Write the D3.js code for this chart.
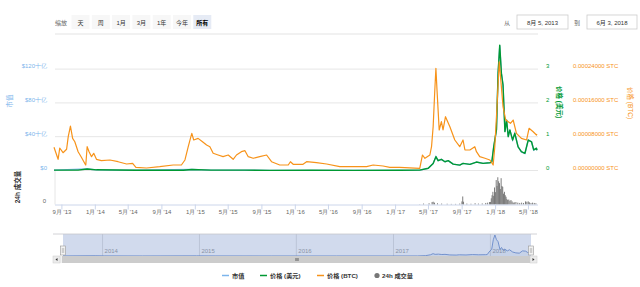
<!DOCTYPE html>
<html>
<head>
<meta charset="utf-8">
<script src="https://cdn.jsdelivr.net/npm/d3@7"></script>
<style>
body { margin: 0; background: #fff; }
svg { font-family: "Liberation Sans", "Noto Sans CJK SC", sans-serif; }
</style>
</head>
<body>
<svg id="chart" width="640" height="287"></svg>
<script>

// ---- data ----
var priceBtc = [
  ["2013-08-05",5.5e-5],["2013-08-20",2.65e-5],["2013-08-26",5.33e-5],["2013-09-07",4.21e-5],
  ["2013-09-20",5.02e-5],["2013-09-26",8.0e-5],["2013-10-04",10.5e-5],["2013-10-12",7.6e-5],
  ["2013-10-20",6.8e-5],["2013-11-01",4.45e-5],["2013-11-13",3.12e-5],["2013-11-25",1.7e-5],
  ["2013-11-29",1.3e-5],["2013-12-04",5.63e-5],["2013-12-11",4.45e-5],["2013-12-20",3.27e-5],
  ["2013-12-28",4.07e-5],["2014-01-07",2.65e-5],["2014-01-25",2.32e-5],["2014-02-25",2.49e-5],
  ["2014-03-27",2.08e-5],["2014-04-27",1.54e-5],["2014-05-19",1.7e-5],["2014-05-31",0.76e-5],
  ["2014-07-09",0.59e-5],["2014-08-26",0.9e-5],["2014-10-14",1.3e-5],["2014-11-13",1.3e-5],
  ["2014-11-26",2.49e-5],["2014-12-08",5.63e-5],["2014-12-16",7.6e-5],["2014-12-21",8.8e-5],
  ["2014-12-28",7.22e-5],["2015-01-13",7.6e-5],["2015-01-29",6.8e-5],["2015-02-13",6.04e-5],
  ["2015-02-25",5.63e-5],["2015-03-09",4.07e-5],["2015-03-27",3.67e-5],["2015-04-14",3.27e-5],
  ["2015-05-03",3.67e-5],["2015-05-21",2.65e-5],["2015-06-02",3.67e-5],["2015-06-20",4.45e-5],
  ["2015-07-03",4.69e-5],["2015-07-15",3.27e-5],["2015-08-02",2.89e-5],["2015-08-26",3.27e-5],
  ["2015-09-20",3.67e-5],["2015-10-08",2.08e-5],["2015-11-07",1.3e-5],["2015-12-08",1.3e-5],
  ["2015-12-16",2.08e-5],["2015-12-26",1.47e-5],["2016-01-31",1.47e-5],["2016-02-13",2.08e-5],
  ["2016-03-20",1.85e-5],["2016-04-26",1.54e-5],["2016-06-13",0.9e-5],["2016-08-01",0.9e-5],
  ["2016-09-19",0.9e-5],["2016-10-13",1.3e-5],["2016-11-18",1.07e-5],["2016-12-13",0.76e-5],
  ["2017-01-18",0.76e-5],["2017-04-01",0.52e-5],["2017-04-11",3.67e-5],["2017-04-20",2.89e-5],
  ["2017-05-08",3.67e-5],["2017-05-14",5.63e-5],["2017-05-20",10.4e-5],["2017-05-26",19.05e-5],
  ["2017-05-30",24.2e-5],["2017-06-03",19.05e-5],["2017-06-11",9.59e-5],["2017-06-19",11.55e-5],
  ["2017-06-25",9.59e-5],["2017-07-04",12.73e-5],["2017-07-20",10.37e-5],["2017-08-07",7.22e-5],
  ["2017-08-25",5.63e-5],["2017-09-06",7.22e-5],["2017-09-13",4.85e-5],["2017-10-01",4.85e-5],
  ["2017-10-19",5.63e-5],["2017-10-25",4.45e-5],["2017-11-06",3.27e-5],["2017-11-25",2.89e-5],
  ["2017-12-13",2.49e-5],["2017-12-25",1.3e-5],["2017-12-31",5.63e-5],["2018-01-08",15.1e-5],
  ["2018-01-16",25.7e-5],["2018-01-24",19.8e-5],["2018-01-30",15.1e-5],["2018-02-09",11.95e-5],
  ["2018-02-18",11.55e-5],["2018-02-26",11.17e-5],["2018-03-08",11.95e-5],["2018-03-20",8.8e-5],
  ["2018-04-07",7.6e-5],["2018-04-26",7.22e-5],["2018-05-05",9.99e-5],["2018-05-20",9.18e-5],
  ["2018-06-01",8.4e-5],["2018-06-03",8.6e-5]
];

var priceUsd = [
  ["2013-08-05",0.012],["2013-11-01",0.01],["2013-12-04",0.045],["2014-01-07",0.02],
  ["2014-06-01",0.008],["2014-11-20",0.006],["2014-12-21",0.03],["2015-03-01",0.012],
  ["2015-07-03",0.01],["2015-10-01",0.005],["2016-03-01",0.006],["2016-08-01",0.005],
  ["2017-01-18",0.006],["2017-04-01",0.01],["2017-05-02",0.065],["2017-05-20",0.21],
  ["2017-05-30",0.41],["2017-06-07",0.29],["2017-06-19",0.33],["2017-07-02",0.26],
  ["2017-07-14",0.29],["2017-08-01",0.19],["2017-08-25",0.16],["2017-09-06",0.21],
  ["2017-10-01",0.18],["2017-10-25",0.25],["2017-11-18",0.21],["2017-12-13",0.23],
  ["2017-12-20",0.25],["2017-12-27",0.70],["2018-01-06",1.2],["2018-01-12",2.88],
  ["2018-01-18",3.71],["2018-01-24",2.88],["2018-01-30",2.53],["2018-02-06",1.15],
  ["2018-02-12",1.49],["2018-02-18",1.0],["2018-02-24",1.2],["2018-03-06",0.90],
  ["2018-03-14",1.10],["2018-03-26",0.70],["2018-04-07",0.56],["2018-04-20",0.51],
  ["2018-05-02",0.90],["2018-05-14",0.85],["2018-05-22",0.61],["2018-06-01",0.66],
  ["2018-06-03",0.60]
];

// market cap in 十亿 USD
var marketCap = [
  ["2013-08-05",0.5],["2013-12-04",1.8],["2014-01-07",0.8],["2014-06-01",0.3],
  ["2014-12-21",1.2],["2015-03-01",0.5],["2015-10-01",0.2],["2016-06-01",0.25],
  ["2017-01-18",0.25],["2017-04-01",0.4],["2017-05-02",2.6],["2017-05-20",8.4],
  ["2017-05-30",16.4],["2017-06-07",11.6],["2017-06-19",13.2],["2017-07-02",10.4],
  ["2017-07-14",11.6],["2017-08-01",7.6],["2017-08-25",6.4],["2017-09-06",8.4],
  ["2017-10-01",7.2],["2017-10-25",10],["2017-11-18",8.4],["2017-12-13",9.2],
  ["2017-12-20",10],["2017-12-27",28],["2018-01-06",48],["2018-01-12",115],
  ["2018-01-18",148],["2018-01-24",115],["2018-01-30",101],["2018-02-06",46],
  ["2018-02-12",60],["2018-02-18",40],["2018-02-24",48],["2018-03-06",36],
  ["2018-03-14",44],["2018-03-26",28],["2018-04-07",22],["2018-04-20",20],
  ["2018-05-02",36],["2018-05-14",34],["2018-05-22",24],["2018-06-01",26],
  ["2018-06-03",24]
];

// 24h volume, 十亿 USD
var volume = [
  ["2014-01-01",0.01],["2015-01-01",0.01],["2016-01-01",0.01],["2017-01-01",0.01],
  ["2017-04-01",0.1],["2017-04-15",0.3],["2017-05-05",0.4],["2017-05-16",0.8],
  ["2017-05-20",0.9],["2017-05-25",0.6],["2017-06-05",0.4],["2017-06-20",0.3],
  ["2017-07-10",0.25],["2017-07-25",0.2],["2017-08-10",0.2],["2017-08-25",0.3],
  ["2017-09-02",1.0],["2017-09-05",2.6],["2017-09-08",0.9],["2017-09-20",0.3],
  ["2017-10-05",0.25],["2017-10-20",0.4],["2017-11-01",0.3],["2017-11-15",0.35],
  ["2017-11-28",0.5],["2017-12-05",0.6],["2017-12-12",0.8],["2017-12-15",0.8],
  ["2017-12-18",2.0],["2017-12-21",3.0],["2017-12-24",4.1],["2017-12-27",2.8],
  ["2017-12-30",5.5],["2018-01-02",4.0],["2018-01-05",7.9],["2018-01-08",6.0],
  ["2018-01-11",8.8],["2018-01-14",7.5],["2018-01-17",6.9],["2018-01-20",5.0],
  ["2018-01-23",8.5],["2018-01-26",6.0],["2018-01-29",5.7],["2018-02-01",3.5],
  ["2018-02-04",4.1],["2018-02-07",3.0],["2018-02-10",2.5],["2018-02-13",1.8],
  ["2018-02-16",1.45],["2018-02-20",1.6],["2018-02-24",1.2],["2018-02-28",1.45],
  ["2018-03-04",1.0],["2018-03-08",0.6],["2018-03-12",0.7],["2018-03-18",0.8],
  ["2018-03-25",0.6],["2018-04-01",0.5],["2018-04-08",0.6],["2018-04-15",0.5],
  ["2018-04-22",1.0],["2018-04-27",0.9],["2018-05-02",1.0],["2018-05-06",0.7],
  ["2018-05-12",0.5],["2018-05-18",0.6],["2018-05-24",0.5],["2018-05-30",0.4]
];

var xTicks = ["2013-09-01","2014-01-01","2014-05-01","2014-09-01","2015-01-01","2015-05-01",
  "2015-09-01","2016-01-01","2016-05-01","2016-09-01","2017-01-01","2017-05-01",
  "2017-09-01","2018-01-01","2018-05-01"];
var navYears = ["2014-01-01","2015-01-01","2016-01-01","2017-01-01","2018-01-01"];
var mcTicks = [0, 40, 80, 120];
var usdTicks = [0, 1, 2, 3];
var btcTicks = [0, 0.00008, 0.00016, 0.00024];
var rangeButtons = ["天","周","1月","3月","1年","今年","所有"];
var dateFrom = "8月 5, 2013", dateTo = "6月 3, 2018";
var legendItems = [
  {name:"市值", color:"#7cb5ec", type:"line"},
  {name:"价格 (美元)", color:"#009933", type:"line"},
  {name:"价格 (BTC)", color:"#f7931a", type:"line"},
  {name:"24h 成交量", color:"#777777", type:"dot"}
];

var parse = d3.timeParse("%Y-%m-%d");
var fmtMonth = d3.timeFormat("%-m月 '%y");

var svg = d3.select("#chart");

// scales
var x = d3.scaleTime().domain([parse("2013-08-05"), parse("2018-06-03")]).range([54, 537]);
var yMc = d3.scaleLinear().domain([0, 160]).range([170.5, 35.3]);
var yUsd = d3.scaleLinear().domain([0, 4]).range([170.5, 35.3]);
var yBtc = d3.scaleLinear().domain([0, 0.00032]).range([170.5, 35.3]);
var yVol = d3.scaleLinear().domain([0, 10.5]).range([204.5, 172]);

// range selector
svg.append("text").attr("x", 55).attr("y", 24.5).attr("font-size", 6)
  .attr("fill", "#666").text("缩放");
var btn = svg.selectAll(".rbtn").data(rangeButtons).enter().append("g")
  .attr("transform", function(d, i) { return "translate(" + (80.5 + i * 20.3) + ",0)"; });
btn.append("rect").attr("x", -9).attr("y", 15).attr("width", 18).attr("height", 14)
  .attr("fill", function(d, i) { return i == rangeButtons.length - 1 ? "#e6ebf5" : "#f7f7f7"; });
btn.append("text").attr("y", 24.5).attr("text-anchor", "middle").attr("font-size", 6)
  .attr("font-weight", function(d, i) { return i == rangeButtons.length - 1 ? "bold" : "normal"; })
  .attr("fill", function(d, i) { return i == rangeButtons.length - 1 ? "#000" : "#333"; })
  .text(function(d) { return d; });

// date inputs
svg.append("text").attr("x", 507).attr("y", 24.5).attr("text-anchor", "middle")
  .attr("font-size", 6).attr("fill", "#666").text("从");
svg.append("rect").attr("x", 517).attr("y", 15).attr("width", 51).attr("height", 14)
  .attr("fill", "#fff").attr("stroke", "#cccccc").attr("stroke-width", 0.8);
svg.append("text").attr("x", 542.5).attr("y", 24.5).attr("text-anchor", "middle")
  .attr("font-size", 6).attr("fill", "#333").text(dateFrom);
svg.append("text").attr("x", 577).attr("y", 24.5).attr("text-anchor", "middle")
  .attr("font-size", 6).attr("fill", "#666").text("到");
svg.append("rect").attr("x", 587).attr("y", 15).attr("width", 50).attr("height", 14)
  .attr("fill", "#fff").attr("stroke", "#cccccc").attr("stroke-width", 0.8);
svg.append("text").attr("x", 612).attr("y", 24.5).attr("text-anchor", "middle")
  .attr("font-size", 6).attr("fill", "#333").text(dateTo);

// separator under the selector
svg.append("line").attr("x1", 55).attr("x2", 538).attr("y1", 34).attr("y2", 34)
  .attr("stroke", "#ececec").attr("stroke-width", 1.5);

// gridlines
svg.append("g").selectAll("line").data(mcTicks).enter().append("line")
  .attr("x1", 55).attr("x2", 538)
  .attr("y1", function(d) { return yMc(d); }).attr("y2", function(d) { return yMc(d); })
  .attr("stroke", "#e6e6e6").attr("stroke-width", 1);

// left axis (market cap)
var gL = svg.append("g").attr("transform", "translate(47,0)")
  .call(d3.axisLeft(yMc).tickValues(mcTicks).tickSize(0).tickPadding(0)
    .tickFormat(function(d) { return d == 0 ? "$0" : "$" + d + "十亿"; }));
gL.select(".domain").remove();
gL.selectAll("text").attr("dy", "-1.5").attr("font-size", 6).attr("fill", "#7cb5ec")
  .attr("font-family", null);

// right axis (usd)
var gR = svg.append("g").attr("transform", "translate(546,0)")
  .call(d3.axisRight(yUsd).tickValues(usdTicks).tickSize(0).tickPadding(0)
    .tickFormat(d3.format("d")));
gR.select(".domain").remove();
gR.selectAll("text").attr("dy", "-1.5").attr("font-size", 6).attr("fill", "#009933")
  .attr("font-family", null);

// right axis (btc)
var gB = svg.append("g").attr("transform", "translate(573,0)")
  .call(d3.axisRight(yBtc).tickValues(btcTicks).tickSize(0).tickPadding(0)
    .tickFormat(function(d) { return d3.format(".8f")(d) + " STC"; }));
gB.select(".domain").remove();
gB.selectAll("text").attr("dy", "-1.5").attr("font-size", 6).attr("fill", "#f7931a")
  .attr("font-family", null);

// axis titles
svg.append("text").attr("transform", "translate(12,101) rotate(-90)").attr("text-anchor", "middle")
  .attr("font-size", 6.5).attr("fill", "#7cb5ec").text("市值");
svg.append("text").attr("transform", "translate(19.5,187) rotate(-90)").attr("text-anchor", "middle")
  .attr("font-size", 6.5).attr("font-weight", "bold").attr("fill", "#333").text("24h 成交量");
svg.append("text").attr("transform", "translate(557,102) rotate(90)").attr("text-anchor", "middle")
  .attr("font-size", 6.5).attr("font-weight", "bold").attr("fill", "#009933").text("价格 (美元)");
svg.append("text").attr("transform", "translate(628,103) rotate(90)").attr("text-anchor", "middle")
  .attr("font-size", 6.5).attr("fill", "#f7931a").text("价格 (BTC)");

// volume panel
svg.append("line").attr("x1", 55).attr("x2", 55).attr("y1", 171).attr("y2", 204.5)
  .attr("stroke", "#e6e6e6");
svg.append("text").attr("x", 46).attr("y", yVol(0) - 1.5).attr("text-anchor", "end")
  .attr("font-size", 6).attr("fill", "#666").text("0");
svg.append("g").selectAll("rect").data(volume).enter().append("rect")
  .attr("x", function(d) { return x(parse(d[0])) - 0.45; })
  .attr("width", 0.9)
  .attr("y", function(d) { return yVol(d[1]); })
  .attr("height", function(d) { return yVol(0) - yVol(d[1]); })
  .attr("fill", "#6f6f6f");

// x axis
var gX = svg.append("g").attr("transform", "translate(0,204.5)")
  .call(d3.axisBottom(x).tickValues(xTicks.map(parse)).tickSize(5).tickPadding(0)
    .tickFormat(fmtMonth));
gX.select(".domain").attr("stroke", "#ccd6eb").attr("d", "M55,0.5H538");
gX.selectAll(".tick line").attr("stroke", "#ccd6eb");
gX.selectAll("text").attr("font-size", 6).attr("fill", "#666").attr("font-family", null);

// lines
function lineFor(yScale) {
  return d3.line().x(function(d) { return x(parse(d[0])); })
    .y(function(d) { return yScale(d[1]); });
}
svg.append("path").datum(marketCap).attr("d", lineFor(yMc))
  .attr("fill", "none").attr("stroke", "#7cb5ec").attr("stroke-width", 1.3);
svg.append("path").datum(priceUsd).attr("d", lineFor(yUsd))
  .attr("fill", "none").attr("stroke", "#009933").attr("stroke-width", 1.4)
  .attr("stroke-linejoin", "round");
svg.append("path").datum(priceBtc).attr("d", lineFor(yBtc))
  .attr("fill", "none").attr("stroke", "#f7931a").attr("stroke-width", 1.2)
  .attr("stroke-linejoin", "round");

// navigator
var xN = d3.scaleTime().domain(x.domain()).range([63, 531]);
var yN = d3.scaleLinear().domain([0, 148]).range([256, 235]);
svg.append("g").selectAll("line").data(navYears).enter().append("line")
  .attr("x1", function(d) { return xN(parse(d)); }).attr("x2", function(d) { return xN(parse(d)); })
  .attr("y1", 234).attr("y2", 256).attr("stroke", "#e0e0e0");
svg.append("g").selectAll("text").data(navYears).enter().append("text")
  .attr("x", function(d) { return xN(parse(d)) + 2; }).attr("y", 253)
  .attr("font-size", 6).attr("fill", "#999")
  .text(function(d) { return d.slice(0, 4); });
svg.append("path").datum(marketCap)
  .attr("d", d3.area().x(function(d) { return xN(parse(d[0])); })
    .y0(256).y1(function(d) { return yN(d[1]); }))
  .attr("fill", "rgba(69,114,167,0.08)");
svg.append("path").datum(marketCap)
  .attr("d", d3.line().x(function(d) { return xN(parse(d[0])); }).y(function(d) { return yN(d[1]); }))
  .attr("fill", "none").attr("stroke", "#6a8ccd").attr("stroke-width", 0.9);
svg.append("rect").attr("x", 63).attr("y", 234).attr("width", 468).attr("height", 22)
  .attr("fill", "rgba(102,133,194,0.3)");
svg.append("line").attr("x1", 53).attr("x2", 537).attr("y1", 234).attr("y2", 234)
  .attr("stroke", "#c6c6cc").attr("stroke-width", 0.8);

// handles
[63, 531].forEach(function(hx) {
  svg.append("rect").attr("x", hx - 2.5).attr("y", 246).attr("width", 5).attr("height", 9)
    .attr("fill", "#f2f2f2").attr("stroke", "#999").attr("stroke-width", 0.6);
  svg.append("line").attr("x1", hx - 0.7).attr("x2", hx - 0.7).attr("y1", 248).attr("y2", 253)
    .attr("stroke", "#999").attr("stroke-width", 0.5);
  svg.append("line").attr("x1", hx + 0.7).attr("x2", hx + 0.7).attr("y1", 248).attr("y2", 253)
    .attr("stroke", "#999").attr("stroke-width", 0.5);
});

// scrollbar
svg.append("rect").attr("x", 53).attr("y", 256).attr("width", 484).attr("height", 7)
  .attr("fill", "#f2f2f2");
svg.append("rect").attr("x", 62).attr("y", 256).attr("width", 469).attr("height", 7)
  .attr("fill", "#cccccc");
[[53, "M57.5,258 L55.5,259.5 L57.5,261 Z"], [530, "M532.5,258 L534.5,259.5 L532.5,261 Z"]]
  .forEach(function(b) {
    svg.append("rect").attr("x", b[0]).attr("y", 256).attr("width", 7).attr("height", 7)
      .attr("fill", "#ebebeb").attr("stroke", "#cccccc").attr("stroke-width", 0.5);
    svg.append("path").attr("d", b[1]).attr("fill", "#333");
  });
[-1.2, 0, 1.2].forEach(function(o) {
  svg.append("line").attr("x1", 297 + o).attr("x2", 297 + o).attr("y1", 258).attr("y2", 261)
    .attr("stroke", "#333").attr("stroke-width", 0.5);
});

// legend
var legX = [222, 260, 317, 377];
var leg = svg.selectAll(".leg").data(legendItems).enter().append("g")
  .attr("transform", function(d, i) { return "translate(" + legX[i] + ",275.5)"; });
leg.each(function(d) {
  var g = d3.select(this);
  if (d.type == "line") {
    g.append("line").attr("x1", 0).attr("x2", 7).attr("stroke", d.color).attr("stroke-width", 1.5);
    g.append("text").attr("x", 10).attr("y", 2).attr("font-size", 6.2).attr("font-weight", "bold")
      .attr("fill", "#333").text(d.name);
  } else {
    g.append("circle").attr("r", 2.6).attr("fill", d.color);
    g.append("text").attr("x", 5).attr("y", 2).attr("font-size", 6.2).attr("font-weight", "bold")
      .attr("fill", "#333").text(d.name);
  }
});
</script>
</body>
</html>
